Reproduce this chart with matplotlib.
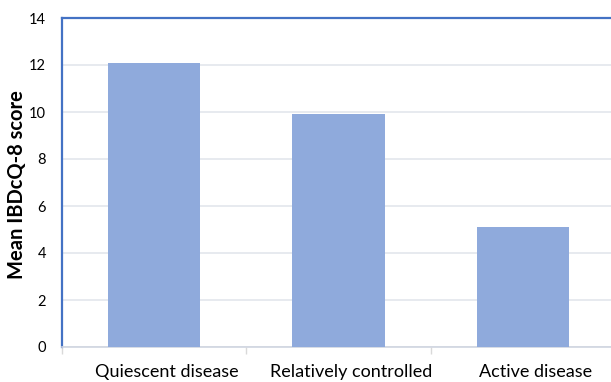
import matplotlib
matplotlib.use("Agg")
import matplotlib.pyplot as plt
import matplotlib.transforms as mtransforms
import numpy as np

categories = ["Quiescent disease", "Relatively controlled", "Active disease"]
values = [12.1, 9.9, 5.1]
yticks = [0, 2, 4, 6, 8, 10, 12, 14]

plt.rcParams['font.family'] = ['Lato', 'DejaVu Sans']

fig = plt.figure(figsize=(6.11, 3.82), dpi=100)
W, H = 611, 382
left, right, top, bottom = 62, 615, 18, 347
ax = fig.add_axes([left / W, (H - bottom) / H, (right - left) / W, (bottom - top) / H])

x = np.arange(len(categories))
ax.bar(x, values, width=0.5, color="#8FAADC", zorder=3)
ax.set_xlim(-0.5, len(categories) - 0.5)
ax.set_ylim(0, 14)
ax.set_yticks(yticks)
ax.set_yticklabels([str(t) for t in yticks], fontsize=10.5, color="#000000")
ax.yaxis.grid(True, color="#E3E6EC", linewidth=1.2, zorder=0)
ax.tick_params(axis='y', length=0, pad=11.5)

ax.set_xticks(x)
ax.set_xticklabels(categories, fontsize=13, color="#000000")
ax.tick_params(axis='x', which='major', length=0, pad=12)
ax.set_xticks(np.arange(-0.5, len(categories), 1), minor=True)
ax.tick_params(axis='x', which='minor', length=5, color="#D9D9D9", width=1)

shift = mtransforms.ScaledTranslation(13 / 100, 0, fig.dpi_scale_trans)
for lab in ax.get_xticklabels():
    lab.set_transform(lab.get_transform() + shift)

for s in ['top', 'left']:
    ax.spines[s].set_color("#4472C4")
    ax.spines[s].set_linewidth(1.6)
ax.spines['right'].set_visible(False)
ax.spines['bottom'].set_color("#D0D5E0")
ax.spines['bottom'].set_linewidth(1.2)

fig.text(17 / W, 1 - 185 / H, "Mean IBDcQ-8 score", rotation=90, ha='center', va='center',
         fontsize=14.5, fontweight='bold')

fig.savefig("out.png", dpi=100)
